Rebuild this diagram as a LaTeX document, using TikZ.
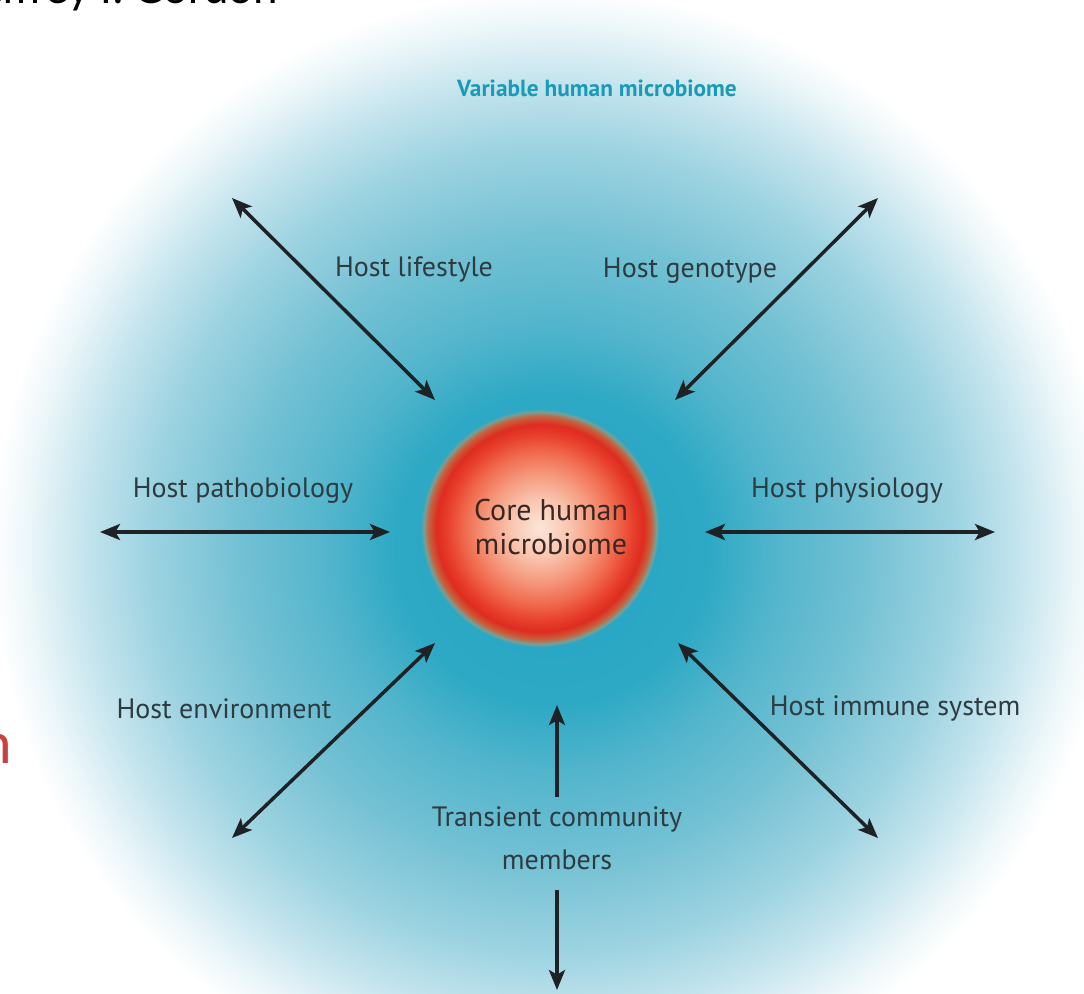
\documentclass[tikz,border=0pt]{standalone}
\usepackage{fontspec}
\setmainfont{PT Sans}
\newfontfamily\calfont{Carlito}
\usetikzlibrary{arrows.meta}
\definecolor{bg0}{HTML}{22A4C1}
\definecolor{bg1}{HTML}{2EA9C5}
\definecolor{bg2}{HTML}{52B5CC}
\definecolor{bg3}{HTML}{74C1D4}
\definecolor{bg4}{HTML}{9DD3E1}
\definecolor{bg5}{HTML}{C6E5EE}
\definecolor{bg6}{HTML}{EDF7F9}
\definecolor{rd0}{HTML}{FCE6DA}
\definecolor{rd1}{HTML}{F9C6B0}
\definecolor{rd2}{HTML}{F59C80}
\definecolor{rd3}{HTML}{F06A4E}
\definecolor{rd4}{HTML}{E8402C}
\definecolor{rd5}{HTML}{DE2C20}
\definecolor{rd6}{HTML}{C8603C}
\definecolor{rd7}{HTML}{7A9E94}
\definecolor{labelc}{HTML}{2E3B40}
\definecolor{corec}{HTML}{3A2622}
\definecolor{titlec}{HTML}{1A9AB5}
\definecolor{arrowc}{HTML}{1E2224}
\definecolor{redtxt}{HTML}{C84040}
\pgfdeclareradialshading{bigglow}{\pgfpoint{0bp}{0bp}}{%
  color(0bp)=(bg0); color(7bp)=(bg1); color(10bp)=(bg2); color(14bp)=(bg3);
  color(18bp)=(bg4); color(21bp)=(bg5); color(23.5bp)=(bg6); color(25bp)=(white); color(50bp)=(white)}
\pgfdeclareradialshading{coreglow}{\pgfpoint{0bp}{0bp}}{%
  color(0bp)=(rd0); color(6bp)=(rd1); color(11bp)=(rd2); color(16bp)=(rd3);
  color(19.5bp)=(rd4); color(21.8bp)=(rd5); color(23.4bp)=(rd6); color(24.4bp)=(rd7); color(25bp)=(bg1); color(50bp)=(bg1)}
\tikzset{
  dbl/.style={{Stealth[length=15pt,width=12pt,inset=3.5pt]}-{Stealth[length=15pt,width=12pt,inset=3.5pt]}, line width=2.6pt, draw=arrowc},
  sgl/.style={-{Stealth[length=15pt,width=12pt,inset=3.5pt]}, line width=2.6pt, draw=arrowc},
  lbl/.style={font=\fontsize{21}{25}\selectfont, text=labelc, inner sep=0pt},
  corelbl/.style={font=\fontsize{22.5}{27}\selectfont, text=corec, inner sep=0pt, align=center},
}
\begin{document}
\begin{tikzpicture}[x=0.75pt,y=-0.75pt]
\useasboundingbox (0,0) rectangle (1084,993);
\fill[white] (0,0) rectangle (1084,993);
\clip (0,0) rectangle (1084,993);
% variable microbiome glow
\shade[shading=bigglow] (552,549) circle[radius=560];
% core circle
\shade[shading=coreglow] (540,528) circle[radius=119];
% partial slide texts
\node[anchor=base east, inner sep=0pt, font=\calfont\fontsize{35}{40}\selectfont, text=black] (author) at (278,3) {Jeffrey I. Gordon};
\node[anchor=base east, inner sep=0pt, font=\calfont\fontsize{45}{50}\selectfont, text=redtxt] (redn) at (12,763) {n};
% labels
\node[font=\bfseries\fontsize{17.5}{21}\selectfont, text=titlec, inner sep=0pt] (var) at (597,88) {Variable human microbiome};
\node[corelbl] (core) at (551,527) {Core human\\[-2pt]microbiome};
\node[lbl] (lifestyle) at (414,269) {Host lifestyle};
\node[lbl] (genotype) at (690,271) {Host genotype};
\node[lbl] (patho) at (243,491) {Host pathobiology};
\node[lbl] (physio) at (847,491) {Host physiology};
\node[lbl] (env) at (224,709) {Host environment};
\node[lbl] (immune) at (895,708) {Host immune system};
\node[lbl, align=center, font=\fontsize{21}{32}\selectfont] (transient) at (557,838) {Transient community\\members};
% arrow end points
\coordinate (lsA) at (232,198); \coordinate (lsB) at (435,400);
\coordinate (gtA) at (878,198); \coordinate (gtB) at (675,400);
\coordinate (pbA) at (100,532); \coordinate (pbB) at (390,532);
\coordinate (phA) at (705,532); \coordinate (phB) at (995,532);
\coordinate (enA) at (435,643); \coordinate (enB) at (232,838);
\coordinate (imA) at (678,643); \coordinate (imB) at (878,838);
\coordinate (trA) at (557,797); \coordinate (trB) at (557,705);
\coordinate (trC) at (557,890); \coordinate (trD) at (557,990);
% arrows
\draw[dbl] (lsA) -- (lsB);
\draw[dbl] (gtA) -- (gtB);
\draw[dbl] (pbA) -- (pbB);
\draw[dbl] (phA) -- (phB);
\draw[dbl] (enA) -- (enB);
\draw[dbl] (imA) -- (imB);
\draw[sgl] (trA) -- (trB);
\draw[sgl] (trC) -- (trD);
\end{tikzpicture}
\end{document}
